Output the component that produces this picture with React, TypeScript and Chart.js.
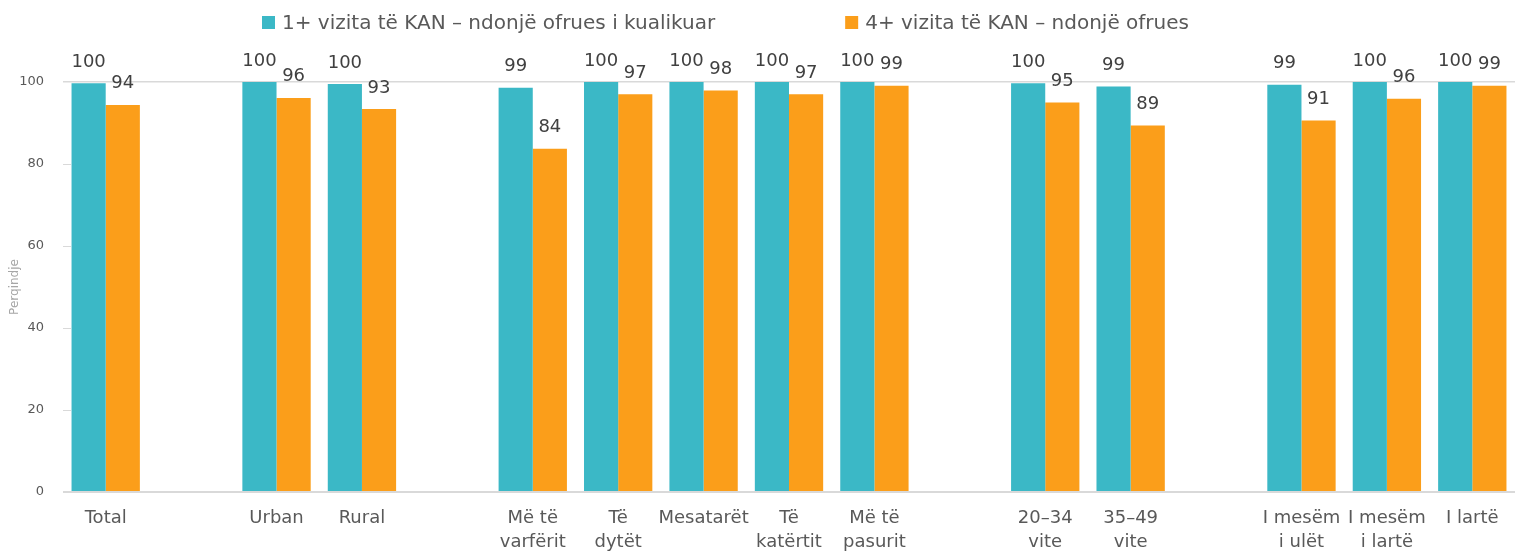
import React, { useEffect, useRef } from "react";
import { Chart, registerables } from "chart.js";

Chart.register(...registerables);

const categories: (string | string[])[] = [
  "Total",
  " ",
  "Urban",
  "Rural",
  "  ",
  ["Më të", "varfërit"],
  ["Të", "dytët"],
  "Mesatarët",
  ["Të", "katërtit"],
  ["Më të", "pasurit"],
  "   ",
  ["20–34", "vite"],
  ["35–49", "vite"],
  "    ",
  ["I mesëm", "i ulët"],
  ["I mesëm", "i lartë"],
  "I lartë",
];

const seriesNames = [
  "1+ vizita të KAN – ndonjë ofrues i kualikuar",
  "4+ vizita të KAN – ndonjë ofrues",
];

const visits1: (number | null)[] = [
  99.7, null, 100, 99.5, null, 98.6, 100, 100, 100, 100, null, 99.7, 98.9, null, 99.3, 100, 100,
];

const visits4: (number | null)[] = [
  94.4, null, 96.1, 93.4, null, 83.7, 97.0, 97.9, 97.0, 99.1, null, 95.0, 89.4, null, 90.6, 95.9, 99.1,
];

const yTicks = [0, 20, 40, 60, 80, 100];
const yTitle = "Perqindje";

const COLORS = ["#3BB8C6", "#FB9E1A"];
const FONT = "'DejaVu Sans', sans-serif";

const dataLabelPlugin = {
  id: "dataLabels",
  afterDatasetsDraw(chart: any) {
    const ctx = chart.ctx;
    ctx.save();
    ctx.font = `18px ${FONT}`;
    ctx.fillStyle = "#404040";
    ctx.textAlign = "center";
    ctx.textBaseline = "alphabetic";
    chart.data.datasets.forEach((ds: any, i: number) => {
      const meta = chart.getDatasetMeta(i);
      meta.data.forEach((el: any, j: number) => {
        const v = ds.data[j];
        if (v == null) return;
        ctx.fillText(String(Math.round(v)), el.x, el.y - 16.5);
      });
    });
    ctx.restore();
  },
};

const innerTicksPlugin = {
  id: "innerTicks",
  beforeDatasetsDraw(chart: any) {
    const ctx = chart.ctx;
    const y = chart.scales.y;
    const left = chart.chartArea.left;
    ctx.save();
    ctx.strokeStyle = "#d9d9d9";
    ctx.lineWidth = 1;
    y.ticks.forEach((t: any) => {
      if (t.value === 0 || t.value === 100) return;
      const py = Math.round(y.getPixelForValue(t.value)) + 0.5;
      ctx.beginPath();
      ctx.moveTo(left, py);
      ctx.lineTo(left + 8, py);
      ctx.stroke();
    });
    ctx.restore();
  },
};

const legendPlugin = {
  id: "customLegend",
  afterDraw(chart: any) {
    const ctx = chart.ctx;
    ctx.save();
    ctx.font = `20px ${FONT}`;
    ctx.textAlign = "left";
    ctx.textBaseline = "alphabetic";
    let x = 262;
    chart.data.datasets.forEach((ds: any) => {
      ctx.fillStyle = ds.backgroundColor;
      ctx.fillRect(x, 16, 13, 13);
      ctx.fillStyle = "#595959";
      ctx.fillText(ds.label, x + 20, 29);
      x = x + 20 + ctx.measureText(ds.label).width + 130;
    });
    ctx.restore();
  },
};

export default function App() {
  const canvasRef = useRef<HTMLCanvasElement | null>(null);

  useEffect(() => {
    document.body.style.margin = "0";
    const canvas = canvasRef.current;
    if (!canvas) return;
    const chart = new Chart(canvas, {
      type: "bar",
      data: {
        labels: categories as any,
        datasets: [
          {
            label: seriesNames[0],
            data: visits1,
            backgroundColor: COLORS[0],
            borderWidth: 0,
            categoryPercentage: 0.8,
            barPercentage: 1.0,
          },
          {
            label: seriesNames[1],
            data: visits4,
            backgroundColor: COLORS[1],
            borderWidth: 0,
            categoryPercentage: 0.8,
            barPercentage: 1.0,
          },
        ],
      },
      options: {
        responsive: false,
        animation: false,
        layout: { padding: { top: 82, right: 7, left: 0, bottom: 0 } },
        plugins: {
          legend: { display: false },
          tooltip: { enabled: false },
        },
        scales: {
          x: {
            grid: { display: false, drawTicks: false },
            border: { display: false },
            ticks: {
              color: "#595959",
              font: { family: FONT, size: 18, lineHeight: 24 / 18 },
              padding: 14,
              maxRotation: 0,
              autoSkip: false,
            },
            afterFit(scale: any) {
              scale.height = 61;
            },
          },
          y: {
            min: 0,
            max: 100,
            afterBuildTicks(scale: any) {
              scale.ticks = yTicks.map((v) => ({ value: v }));
            },
            grid: {
              drawTicks: false,
              color: (c: any) =>
                c.tick && (c.tick.value === 0 || c.tick.value === 100) ? "#d9d9d9" : "rgba(0,0,0,0)",
              lineWidth: (c: any) => (c.tick && c.tick.value === 0 ? 2 : 1.5),
            },
            border: { display: false },
            ticks: {
              color: "#595959",
              font: { family: FONT, size: 13 },
              padding: 19,
            },
            title: {
              display: true,
              text: yTitle,
              color: "#a6a6a6",
              font: { family: FONT, size: 12 },
              padding: { top: 8, bottom: 0 },
            },
            afterFit(scale: any) {
              scale.width = 63;
            },
          },
        },
      },
      plugins: [innerTicksPlugin, dataLabelPlugin, legendPlugin],
    });
    return () => chart.destroy();
  }, []);

  return (
    <div style={{ width: 1522, height: 553 }}>
      <canvas ref={canvasRef} width={1522} height={553} style={{ width: 1522, height: 553, display: "block" }} />
    </div>
  );
}
